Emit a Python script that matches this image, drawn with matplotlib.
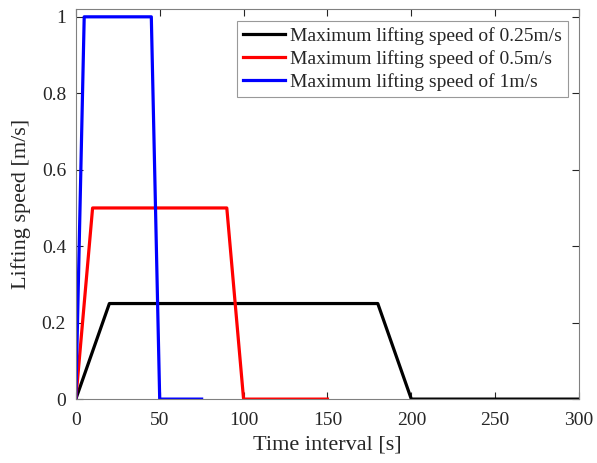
import matplotlib.pyplot as plt

# lifting speed profiles (time [s], speed [m/s])
t_025 = [0, 20, 180, 200, 300]
v_025 = [0, 0.25, 0.25, 0, 0]
t_05 = [0, 10, 90, 100, 150]
v_05 = [0, 0.5, 0.5, 0, 0]
t_1 = [0, 5, 45, 50, 75]
v_1 = [0, 1, 1, 0, 0]

labels = ['Maximum lifting speed of 0.25m/s',
          'Maximum lifting speed of 0.5m/s',
          'Maximum lifting speed of 1m/s']

plt.rcParams['font.family'] = ['Liberation Serif', 'DejaVu Serif']

fig = plt.figure(figsize=(5.97, 4.63), dpi=100)
ax = fig.add_axes([0.127, 0.138, 0.843, 0.843])

ax.plot(t_025, v_025, color='black', lw=2.3, label=labels[0])
ax.plot(t_05, v_05, color='red', lw=2.3, label=labels[1])
ax.plot(t_1, v_1, color='blue', lw=2.3, label=labels[2])

ax.set_xlim(0, 300)
ax.set_ylim(0, 1.021)
ax.set_xticks([0, 50, 100, 150, 200, 250, 300])
ax.set_yticks([0, 0.2, 0.4, 0.6, 0.8, 1])
ax.set_yticklabels(['0', '0.2', '0.4', '0.6', '0.8', '1'])
ax.tick_params(direction='in', top=True, right=True, labelsize=14,
               colors='#262626', length=5, width=0.8)
ax.tick_params(axis='x', pad=9)
ax.tick_params(axis='y', pad=7)
for s in ax.spines.values():
    s.set_color('#808080')
    s.set_linewidth(0.8)

ax.set_xlabel('Time interval [s]', fontsize=16, color='#262626', labelpad=5)
ax.set_ylabel('Lifting speed [m/s]', fontsize=16, color='#262626', labelpad=8)

leg = ax.legend(loc='upper right', fontsize=14, frameon=True, fancybox=False,
                edgecolor='#808080', handlelength=2.2, handletextpad=0.25,
                borderpad=0.3, labelspacing=0.28, borderaxespad=0,
                bbox_to_anchor=(0.978, 0.969))
leg.get_frame().set_linewidth(0.8)
for t in leg.get_texts():
    t.set_color('#262626')

fig.savefig('out.png', dpi=100)
